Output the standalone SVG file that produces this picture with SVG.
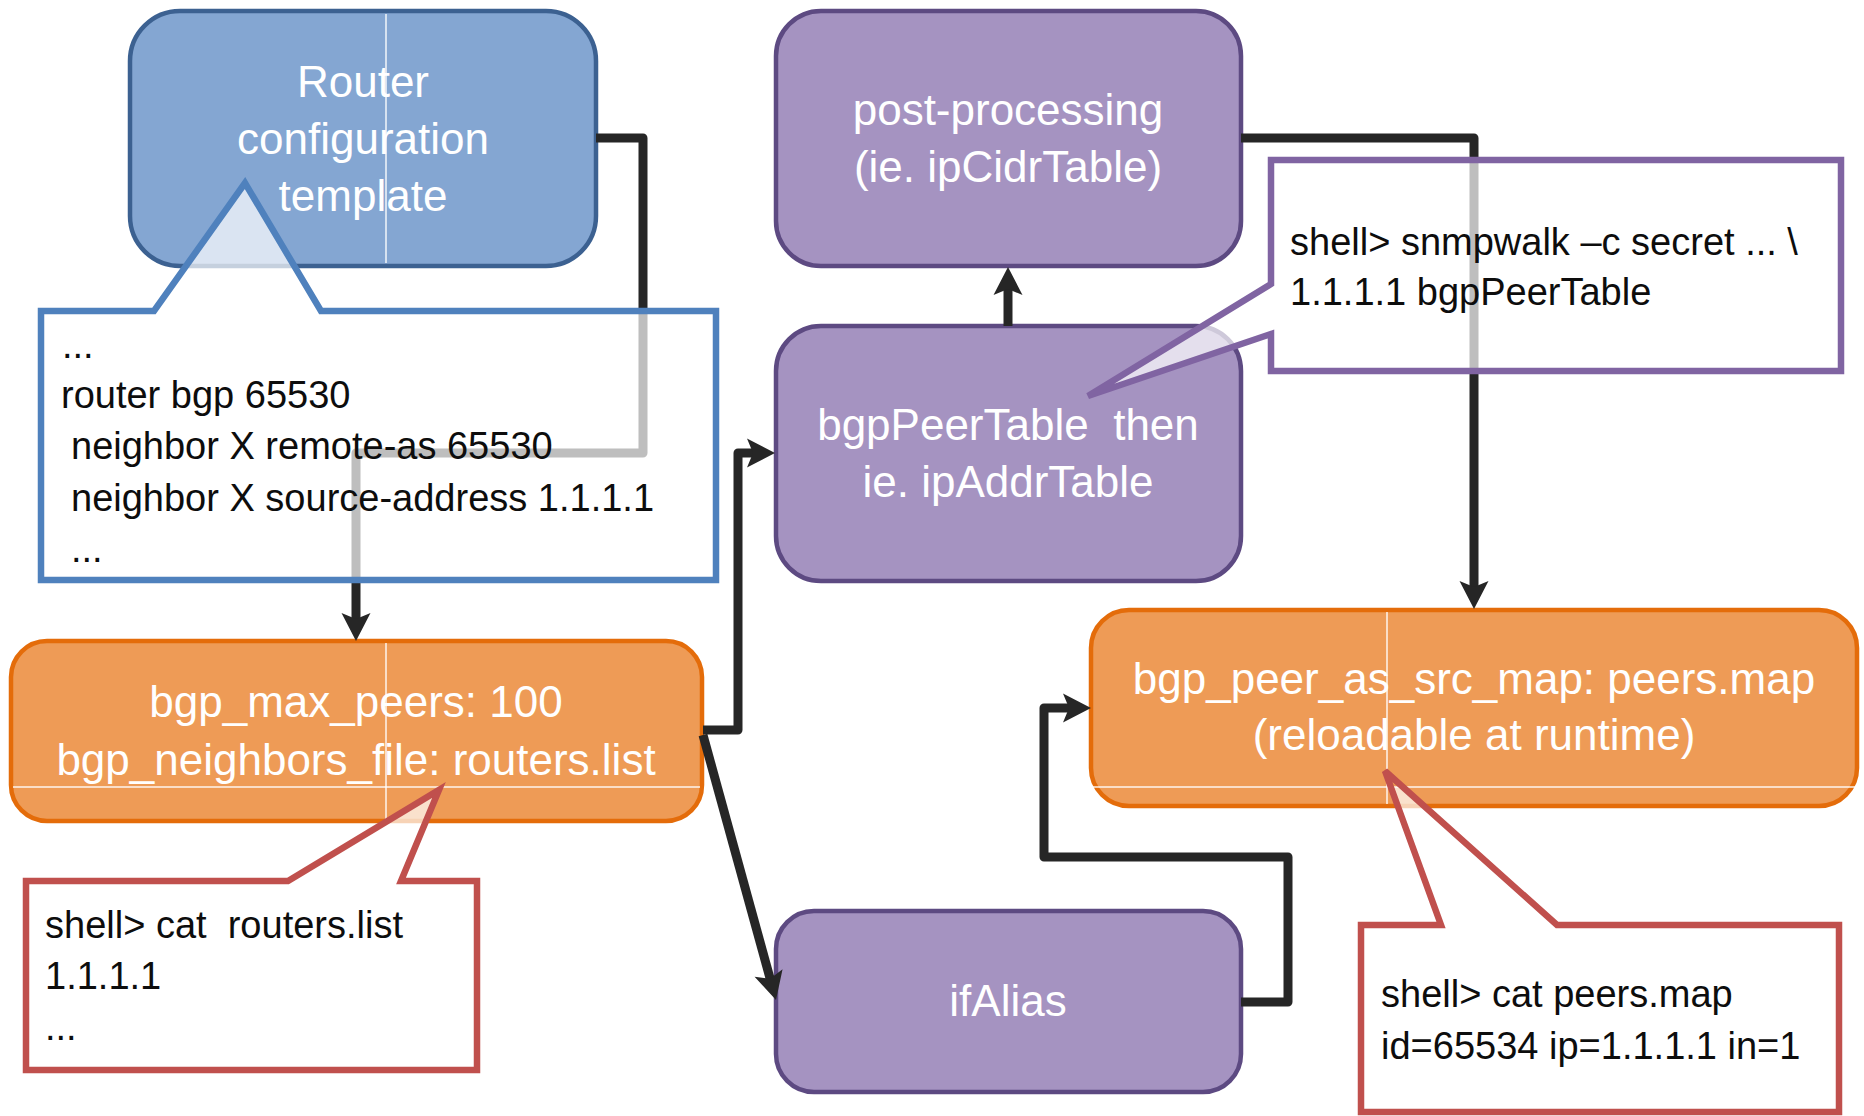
<svg xmlns="http://www.w3.org/2000/svg" width="1864" height="1116" viewBox="0 0 1864 1116">
<style>
  .t { font-family: "Liberation Sans", Arial, sans-serif; }
  .nt { font-size: 44px; fill: #ffffff; text-anchor: middle; }
  .ct { font-size: 38px; fill: #0d0d0d; white-space: pre; }
  .blue { fill: #84a6d2; stroke: #3c6191; stroke-width: 4.5; }
  .purple { fill: #a593c1; stroke: #5d4a82; stroke-width: 4.5; }
  .orange { fill: #ee9b56; stroke: #e46c0a; stroke-width: 4.5; }
  .art { stroke: #ffffff; stroke-width: 1.5; fill: none; opacity: 0.9; }
  .conn { fill: none; stroke: #262626; stroke-width: 9; stroke-linejoin: round; marker-end: url(#arr); }
  .cfill { fill: #ffffff; fill-opacity: 0.7; stroke: none; }
  .cs { fill: none; stroke-width: 6.5; stroke-linejoin: miter; }
</style>
<defs>
  <marker id="arr" viewBox="-10 -16 34 32" refX="0" refY="0" markerWidth="34" markerHeight="32" markerUnits="userSpaceOnUse" orient="auto">
    <path d="M20,0 L-8,-14.5 L-2,0 L-8,14.5 Z" fill="#262626"/>
  </marker>
  <clipPath id="lower"><rect x="0" y="787" width="1864" height="329"/></clipPath>
</defs>
<rect width="1864" height="1116" fill="#ffffff"/>

<g id="router-template">
  <rect class="blue" x="130" y="11" width="466" height="255" rx="50"/>
  <line class="art" x1="386" y1="14" x2="386" y2="263"/>
  <text class="t nt" x="363" y="97">Router</text>
  <text class="t nt" x="363" y="154">configuration</text>
  <text class="t nt" x="363" y="211">template</text>
</g>

<g id="post-processing">
  <rect class="purple" x="776" y="11" width="465" height="255" rx="45"/>
  <text class="t nt" x="1008" y="125">post-processing</text>
  <text class="t nt" x="1008" y="182">(ie. ipCidrTable)</text>
</g>

<g id="bgp-peer-table">
  <rect class="purple" x="776" y="326" width="465" height="255" rx="45"/>
  <text class="t nt" x="1008" y="440" style="white-space:pre">bgpPeerTable  then</text>
  <text class="t nt" x="1008" y="497">ie. ipAddrTable</text>
</g>

<g id="if-alias">
  <rect class="purple" x="776" y="911" width="465" height="181" rx="38"/>
  <text class="t nt" x="1008" y="1016">ifAlias</text>
</g>

<g id="bgp-config">
  <rect class="orange" x="11" y="641" width="691" height="180" rx="36"/>
  <line class="art" x1="386" y1="643" x2="386" y2="819"/>
  <line class="art" x1="13" y1="787" x2="700" y2="787"/>
  <text class="t nt" x="356" y="717">bgp_max_peers: 100</text>
  <text class="t nt" x="356" y="775">bgp_neighbors_file: routers.list</text>
</g>

<g id="peer-as-src-map">
  <rect class="orange" x="1091" y="610" width="766" height="196" rx="38"/>
  <line class="art" x1="1387" y1="612" x2="1387" y2="804"/>
  <line class="art" x1="1093" y1="787" x2="1855" y2="787"/>
  <text class="t nt" x="1474" y="694">bgp_peer_as_src_map: peers.map</text>
  <text class="t nt" x="1474" y="750">(reloadable at runtime)</text>
</g>

<g id="connectors">
  <path class="conn" d="M596,138 H643 V453 H356 V621"/>
  <path class="conn" d="M1241,138 H1474 V589"/>
  <path class="conn" d="M1008,326 V287"/>
  <path class="conn" d="M703,730 H738 V453 H755"/>
  <path class="conn" d="M703,735 L770.7,980.7"/>
  <path class="conn" d="M1241,1002 H1288 V857 H1044 V708 H1071"/>
</g>

<g id="callout-router-config">
  <path class="cfill" d="M41,311 L154,311 L245,183 L321,311 L716,311 L716,580 L41,580 Z"/>
  <path class="cs" stroke="#4f81bd" d="M41,311 L154,311 L245,183 L321,311 L716,311 L716,580 L41,580 Z"/>
  <text class="t ct" x="62" y="358">...</text>
  <text class="t ct" x="61" y="408">router bgp 65530</text>
  <text class="t ct" x="71" y="459">neighbor X remote-as 65530</text>
  <text class="t ct" x="71" y="511">neighbor X source-address 1.1.1.1</text>
  <text class="t ct" x="71" y="562">...</text>
</g>

<g id="callout-snmpwalk">
  <path class="cfill" d="M1271,160 L1841,160 L1841,371 L1271,371 L1271,334 L1088,396 L1271,284 Z"/>
  <path class="cs" stroke="#8064a2" d="M1271,160 L1841,160 L1841,371 L1271,371 L1271,334 L1088,396 L1271,284 Z"/>
  <text class="t ct" x="1290" y="255">shell&gt; snmpwalk –c secret ... \</text>
  <text class="t ct" x="1290" y="305">1.1.1.1 bgpPeerTable</text>
</g>

<g id="callout-routers-list">
  <path class="cfill" clip-path="url(#lower)" d="M26,881 L288,881 L439,790 L401,881 L477,881 L477,1070 L26,1070 Z"/>
  <path class="cs" stroke="#c0504d" d="M26,881 L288,881 L439,790 L401,881 L477,881 L477,1070 L26,1070 Z"/>
  <text class="t ct" x="45" y="938">shell&gt; cat  routers.list</text>
  <text class="t ct" x="45" y="989">1.1.1.1</text>
  <text class="t ct" x="45" y="1040">...</text>
</g>

<g id="callout-peers-map">
  <path class="cfill" clip-path="url(#lower)" d="M1361,925 L1441,925 L1385,771 L1557,925 L1839,925 L1839,1112 L1361,1112 Z"/>
  <path class="cs" stroke="#c0504d" d="M1361,925 L1441,925 L1385,771 L1557,925 L1839,925 L1839,1112 L1361,1112 Z"/>
  <text class="t ct" x="1381" y="1007">shell&gt; cat peers.map</text>
  <text class="t ct" x="1381" y="1059">id=65534 ip=1.1.1.1 in=1</text>
</g>
</svg>
